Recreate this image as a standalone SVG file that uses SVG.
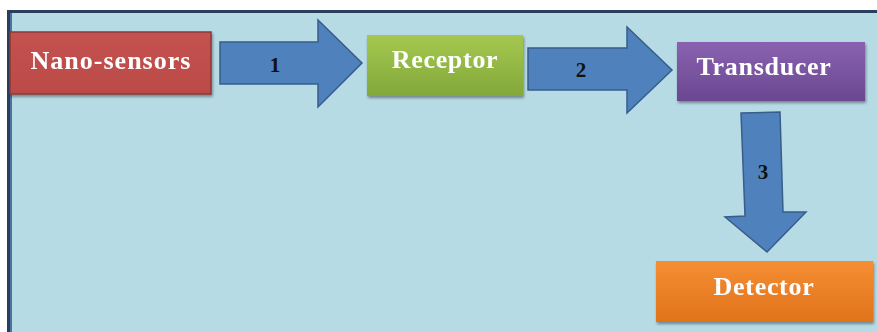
<svg xmlns="http://www.w3.org/2000/svg" width="877" height="332" viewBox="0 0 877 332">
  <defs>
    <style>
      .box-text { font-family: "Liberation Serif", "Times New Roman", serif; font-weight: bold; font-size: 26px; fill: #ffffff; text-anchor: middle; letter-spacing: 0.7px; }
      .num { font-family: "Liberation Serif", "Times New Roman", serif; font-weight: bold; font-size: 21px; fill: #111111; text-anchor: middle; }
      .arrow { fill: #4f81bd; stroke: #385d8a; stroke-width: 1.5; stroke-linejoin: miter; }
    </style>
    <linearGradient id="gRed" x1="0" y1="0" x2="0" y2="1">
      <stop offset="0" stop-color="#c4524f"/>
      <stop offset="1" stop-color="#bb4b48"/>
    </linearGradient>
    <linearGradient id="gGreen" x1="0" y1="0" x2="0" y2="1">
      <stop offset="0" stop-color="#a4c84f"/>
      <stop offset="1" stop-color="#83a83a"/>
    </linearGradient>
    <linearGradient id="gPurple" x1="0" y1="0" x2="0" y2="1">
      <stop offset="0" stop-color="#8a62b0"/>
      <stop offset="1" stop-color="#6a4790"/>
    </linearGradient>
    <linearGradient id="gOrange" x1="0" y1="0" x2="0" y2="1">
      <stop offset="0" stop-color="#f58e33"/>
      <stop offset="1" stop-color="#e0731c"/>
    </linearGradient>
    <filter id="shadow" x="-10%" y="-10%" width="120%" height="130%">
      <feGaussianBlur in="SourceAlpha" stdDeviation="1.5"/>
      <feOffset dx="1" dy="2" result="b"/>
      <feComponentTransfer><feFuncA type="linear" slope="0.4"/></feComponentTransfer>
      <feMerge><feMergeNode/><feMergeNode in="SourceGraphic"/></feMerge>
    </filter>
  </defs>

  <rect x="0" y="0" width="877" height="332" fill="#ffffff"/>
  <g id="frame">
    <rect x="8.5" y="11.5" width="900" height="340" fill="#b7dbe5" stroke="#2a3f5c" stroke-width="3"/>
    <line x1="11" y1="13" x2="11" y2="332" stroke="#4a72a4" stroke-width="2"/>
  </g>

  <g id="connectors">
    <g id="arrow1">
      <polygon class="arrow" points="220,42 318,42 318,20 362,63 318,107 318,84 220,84"/>
      <text class="num" x="275" y="72">1</text>
    </g>
    <g id="arrow2">
      <polygon class="arrow" points="528,48 627,48 627,27 672,70 627,113 627,90 528,90"/>
      <text class="num" x="581" y="77">2</text>
    </g>
    <g id="arrow3">
      <polygon class="arrow" points="741,113 780,112 783,212 806,212 767,252 725,217 745,216"/>
      <text class="num" x="763" y="179">3</text>
    </g>
  </g>

  <g id="nano-sensors" filter="url(#shadow)">
    <rect x="10" y="32" width="201" height="62" fill="url(#gRed)" stroke="#8c3836" stroke-width="1.5"/>
    <text class="box-text" x="111" y="69" style="letter-spacing:1px">Nano-sensors</text>
  </g>

  <g id="receptor" filter="url(#shadow)">
    <rect x="367" y="35" width="156" height="61" fill="url(#gGreen)"/>
    <text class="box-text" x="445" y="68">Receptor</text>
  </g>

  <g id="transducer" filter="url(#shadow)">
    <rect x="677" y="42" width="188" height="59" fill="url(#gPurple)"/>
    <text class="box-text" x="764" y="75">Transducer</text>
  </g>

  <g id="detector" filter="url(#shadow)">
    <rect x="656" y="261" width="217" height="61" fill="url(#gOrange)"/>
    <text class="box-text" x="764" y="295">Detector</text>
  </g>
</svg>
